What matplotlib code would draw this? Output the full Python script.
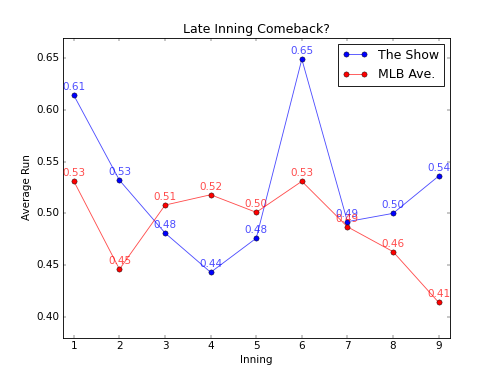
import matplotlib
matplotlib.use("Agg")
import matplotlib.pyplot as plt

innings = [1, 2, 3, 4, 5, 6, 7, 8, 9]
show_runs = [0.614, 0.532, 0.481, 0.443, 0.476, 0.649, 0.492, 0.500, 0.536]
mlb_runs = [0.531, 0.446, 0.508, 0.518, 0.501, 0.531, 0.487, 0.463, 0.414]

plt.style.use('classic')
fig = plt.figure(figsize=(8, 6), dpi=62.5)
ax = fig.add_subplot(111)

# line a bit faded, markers solid with dark edge
ax.plot(innings, show_runs, '-o', color=(0, 0, 1, 0.7), mfc='b', mec='k',
        mew=0.5, label='The Show')
ax.plot(innings, mlb_runs, '-o', color=(1, 0, 0, 0.7), mfc='r', mec='k',
        mew=0.5, label='MLB Ave.')

for x, y in zip(innings, show_runs):
    ax.text(x, y + 0.003, '%.2f' % y, ha='center', va='bottom',
            color='b', alpha=0.7)
for x, y in zip(innings, mlb_runs):
    ax.text(x, y + 0.003, '%.2f' % y, ha='center', va='bottom',
            color='r', alpha=0.7)

ax.set_xlim(0.75, 9.25)
ax.set_ylim(0.38, 0.67)
ax.set_xticks(innings)
ax.set_xlabel('Inning')
ax.set_ylabel('Average Run')
ax.set_title('Late Inning Comeback?')
ax.legend(loc='upper right')

fig.savefig('out.png', dpi=62.5)
